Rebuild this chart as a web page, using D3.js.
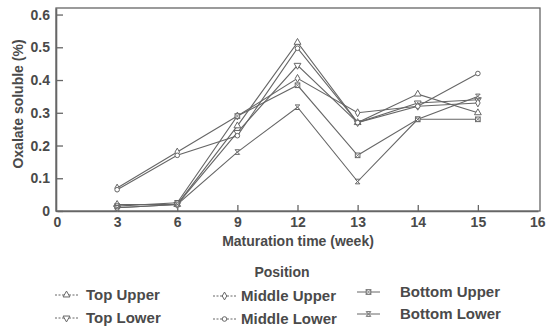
<!DOCTYPE html>
<html>
<head>
<meta charset="utf-8">
<script src="https://cdn.jsdelivr.net/npm/d3@7"></script>
<style>
  body { margin: 0; background: #fff; }
  text { font-family: "Liberation Sans", Arial, sans-serif; font-weight: bold; fill: #4a4a4a; }
</style>
</head>
<body>
<svg id="chart"></svg>
<script>
// soluble oxalate chart

/* DATA */

const xTicks = [0, 3, 6, 9, 12, 13, 14, 15, 16];
const yTicks = [0, 0.1, 0.2, 0.3, 0.4, 0.5, 0.6];
const weeks = [3, 6, 9, 12, 13, 14, 15];

const topUpper    = [0.02, 0.02, 0.26, 0.515, 0.27, 0.357, 0.30];
const topLower    = [0.01, 0.02, 0.24, 0.445, 0.27, 0.33, 0.34];
const middleUpper = [0.07, 0.18, 0.29, 0.405, 0.30, 0.32, 0.33];
const middleLower = [0.065, 0.17, 0.23, 0.497, 0.27, 0.32, 0.42];
const bottomUpper = [0.015, 0.025, 0.29, 0.384, 0.17, 0.28, 0.28];
const bottomLower = [0.01, 0.02, 0.18, 0.317, 0.09, 0.28, 0.35];

const seriesNames = ['Top Upper', 'Top Lower', 'Middle Upper', 'Middle Lower', 'Bottom Upper', 'Bottom Lower'];
const seriesValues = [topUpper, topLower, middleUpper, middleLower, bottomUpper, bottomLower];
const seriesMarks = ['triUp', 'triDown', 'diamond', 'circle', 'square', 'cross'];

/* SETUP */

const width = 546, height = 327;
const ink = '#666';

const svg = d3.select('#chart')
    .attr('width', width)
    .attr('height', height);

// the x axis in the original is not linear: every tick gets the same room
const x = d3.scalePoint()
    .domain(xTicks)
    .range([57, 538]);

const y = d3.scaleLinear()
    .domain([0, 0.62])
    .range([211, 8]);

// plot frame
svg.append('rect')
    .attr('x', 56).attr('y', 8)
    .attr('width', 484).attr('height', 203)
    .attr('fill', 'none')
    .attr('stroke', ink)
    .attr('stroke-width', 1.3);

/* AXES */

let yAxis = svg.append('g')
    .attr('transform', 'translate(56,0)')
    .call(d3.axisLeft(y).tickValues(yTicks).tickSizeInner(-7).tickSizeOuter(0)
        .tickPadding(6).tickFormat(d => d === 0 ? '0' : d3.format('.1f')(d)));

let xAxis = svg.append('g')
    .attr('transform', 'translate(0,211)')
    .call(d3.axisBottom(x).tickSizeInner(-6).tickSizeOuter(0).tickPadding(6));

[xAxis, yAxis].forEach(a => {
    a.select('.domain').attr('stroke', ink).attr('stroke-width', 1.6);
    a.selectAll('.tick line').attr('stroke', ink).attr('stroke-width', 1.3);
    a.selectAll('.tick text').style('font-size', '14px').attr('fill', '#4a4a4a');
});
xAxis.selectAll('.tick').filter(d => d === 0 || d === 16).select('line').remove();
xAxis.selectAll('.tick').filter(d => d === 16).select('text').attr('text-anchor', 'end').attr('x', 7);

svg.append('text')
    .attr('x', 298).attr('y', 246)
    .attr('text-anchor', 'middle')
    .style('font-size', '14px')
    .text('Maturation time (week)');

svg.append('text')
    .attr('transform', 'translate(23,104) rotate(-90)')
    .attr('text-anchor', 'middle')
    .style('font-size', '14px')
    .text('Oxalate soluble (%)');

/* MARKERS */

function drawMark(g, kind, cx, cy) {
    const s = 2.3;
    let m;
    if (kind === 'circle') {
        m = g.append('circle').attr('cx', cx).attr('cy', cy).attr('r', s);
    } else if (kind === 'square') {
        m = g.append('rect').attr('x', cx - s).attr('y', cy - s).attr('width', 2 * s).attr('height', 2 * s);
        g.append('path').attr('d', `M${cx - s},${cy - s}L${cx + s},${cy + s}M${cx + s},${cy - s}L${cx - s},${cy + s}`)
            .attr('stroke', ink).attr('stroke-width', 0.8);
    } else if (kind === 'cross') {
        m = g.append('path').attr('d', `M${cx - s},${cy - s}L${cx + s},${cy - s}L${cx - s},${cy + s}L${cx + s},${cy + s}Z`);
    } else {
        let sym = kind === 'diamond' ? d3.symbolDiamond : d3.symbolTriangle;
        let rot = kind === 'triDown' ? 180 : 0;
        m = g.append('path')
            .attr('d', d3.symbol().type(sym).size(kind === 'diamond' ? 18 : 20)())
            .attr('transform', `translate(${cx},${cy}) rotate(${rot})`);
    }
    m.attr('fill', '#fff').attr('stroke', ink).attr('stroke-width', 1);
}

/* LINES */

let line = d3.line()
    .x(d => x(d[0]))
    .y(d => y(d[1]));

let lineLayer = svg.append('g');

seriesValues.forEach((vals, i) => {
    let pts = weeks.map((w, j) => [w, vals[j]]);
    lineLayer.append('path')
        .attr('d', line(pts))
        .attr('fill', 'none')
        .attr('stroke', ink)
        .attr('stroke-width', 1.1);
});

seriesValues.forEach((vals, i) => {
    weeks.forEach((w, j) => drawMark(lineLayer, seriesMarks[i], x(w), y(vals[j])));
});

/* LEGEND */

svg.append('text')
    .attr('x', 282).attr('y', 277)
    .attr('text-anchor', 'middle')
    .style('font-size', '14px')
    .text('Position');

const legendCols = [[55, 86], [213, 241], [357, 400]];
const legendRows = [[295, 318], [296, 319], [292, 314]];

seriesNames.forEach((name, i) => {
    let col = Math.floor(i / 2), row = i % 2;
    let lx = legendCols[col][0], tx = legendCols[col][1], ly = legendRows[col][row];
    let g = svg.append('g');
    g.append('line')
        .attr('x1', lx).attr('x2', lx + 23)
        .attr('y1', ly).attr('y2', ly)
        .attr('stroke', ink)
        .attr('stroke-width', 1)
        .attr('stroke-dasharray', col === 2 ? null : '2,1.5');
    drawMark(g, seriesMarks[i], lx + 11.5, ly);
    g.append('text')
        .attr('x', tx).attr('y', ly + 5)
        .style('font-size', '15px')
        .text(name);
});
</script>
</body>
</html>
